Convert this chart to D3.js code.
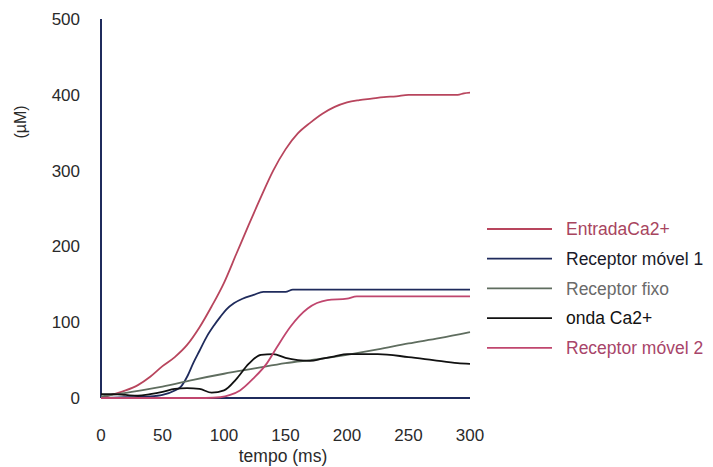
<!DOCTYPE html>
<meta charset="utf-8">
<script src="https://d3js.org/d3.v7.min.js"></script>
<style>
  body { margin: 0; background: #fff; }
  text { font-family: "Liberation Sans", Arial, sans-serif; }
</style>
<div id="chart"></div>
<script>
// time points (ms)
var tEntrada = [0, 10, 20, 30, 40, 50, 60, 70, 80, 90, 100, 110, 120, 130, 140, 150, 160, 170, 180, 190, 200, 210, 220, 230, 240, 250, 260, 270, 280, 290, 295, 300];
var vEntrada = [0, 5, 10, 17, 28, 42, 54, 70, 93, 121, 152, 190, 228, 265, 300, 328, 349, 363, 375, 384, 390, 393, 395, 397, 398, 400, 400, 400, 400, 400, 402, 403];

var tMovel1 = [0, 20, 40, 50, 60, 65, 70, 75, 80, 86, 92, 97, 102, 108, 115, 124, 132, 150, 156, 200, 250, 300];
var vMovel1 = [0, 1, 2, 4, 10, 15, 28, 46, 62, 81, 96, 107, 117, 125, 131, 136, 140, 140, 143, 143, 143, 143];

var tFixo = [0, 25, 50, 75, 100, 125, 150, 175, 200, 225, 250, 275, 300];
var vFixo = [2, 8, 15, 24, 32, 39, 46, 51, 57, 64, 72, 79, 87];

var tOnda = [0, 10, 20, 30, 40, 50, 60, 70, 80, 90, 100, 110, 120, 130, 140, 150, 160, 170, 180, 190, 200, 225, 250, 270, 290, 300];
var vOnda = [5, 5, 4, 3, 5, 8, 12, 13, 12, 7, 10, 25, 45, 57, 58, 53, 50, 49, 52, 55, 58, 58, 54, 50, 46, 45];

var tMovel2 = [0, 85, 97, 105, 113, 124, 135, 143, 154, 168, 184, 200, 208, 250, 300];
var vMovel2 = [0, 0, 1, 4, 10, 26, 46, 67, 94, 118, 129, 131, 134, 134, 134];

var seriesNames = ["EntradaCa2+", "Receptor móvel 1", "Receptor fixo", "onda Ca2+", "Receptor móvel 2"];
var seriesColors = ["#b8455d", "#1f2b5c", "#5f6d5f", "#111111", "#c0466e"];
var textColors = ["#a8455e", "#1a1a2a", "#6a6a6a", "#111111", "#a8456a"];

var xTicks = [0, 50, 100, 150, 200, 250, 300];
var yTicks = [0, 100, 200, 300, 400, 500];

var width = 713, height = 467;
var svg = d3.select("#chart").append("svg")
  .attr("width", width)
  .attr("height", height);

var x = d3.scaleLinear().domain([0, 300]).range([101, 470]);
var y = d3.scaleLinear().domain([0, 500]).range([398, 19]);

// axes
var axisColor = "#1f2b5c";
svg.append("line")
  .attr("x1", x(0)).attr("x2", x(0))
  .attr("y1", y(500)).attr("y2", y(0))
  .attr("stroke", axisColor).attr("stroke-width", 2);
svg.append("line")
  .attr("x1", x(0)).attr("x2", x(300))
  .attr("y1", y(0)).attr("y2", y(0))
  .attr("stroke", axisColor).attr("stroke-width", 2);

svg.selectAll(".ytick")
  .data(yTicks)
  .enter()
  .append("text")
  .attr("x", 80)
  .attr("y", function (d) { return y(d); })
  .attr("dy", "0.35em")
  .attr("text-anchor", "end")
  .style("font-size", "17px")
  .attr("fill", "#2a2a2a")
  .text(function (d) { return d; });

svg.selectAll(".xtick")
  .data(xTicks)
  .enter()
  .append("text")
  .attr("x", function (d) { return x(d); })
  .attr("y", 435)
  .attr("dy", "0.35em")
  .attr("text-anchor", "middle")
  .style("font-size", "17px")
  .attr("fill", "#2a2a2a")
  .text(function (d) { return d; });

svg.append("text")
  .attr("transform", "translate(26,122) rotate(-90)")
  .attr("text-anchor", "middle")
  .style("font-size", "16px")
  .attr("fill", "#2a2a2a")
  .text("(µM)");

svg.append("text")
  .attr("x", 283)
  .attr("y", 462)
  .attr("text-anchor", "middle")
  .style("font-size", "17.5px")
  .attr("fill", "#2a2a2a")
  .text("tempo (ms)");

// series
var series = [
  { t: tEntrada, v: vEntrada },
  { t: tMovel1, v: vMovel1 },
  { t: tFixo, v: vFixo },
  { t: tOnda, v: vOnda },
  { t: tMovel2, v: vMovel2 }
];

var line = d3.line()
  .x(function (d) { return x(d[0]); })
  .y(function (d) { return y(d[1]); })
  .curve(d3.curveMonotoneX);

series.forEach(function (s, i) {
  svg.append("path")
    .datum(d3.zip(s.t, s.v))
    .attr("d", line)
    .attr("fill", "none")
    .attr("stroke", seriesColors[i])
    .attr("stroke-width", 1.8);
});

// legend
var legend = svg.selectAll(".legend")
  .data(seriesNames)
  .enter()
  .append("g")
  .attr("transform", function (d, i) { return "translate(0," + (229 + i * 29.7) + ")"; });

legend.append("line")
  .attr("x1", 487).attr("x2", 552)
  .attr("stroke", function (d, i) { return seriesColors[i]; })
  .attr("stroke-width", 1.8);

legend.append("text")
  .attr("x", 566)
  .attr("dy", "0.35em")
  .style("font-size", "17.5px")
  .attr("fill", function (d, i) { return textColors[i]; })
  .text(function (d) { return d; });
</script>
